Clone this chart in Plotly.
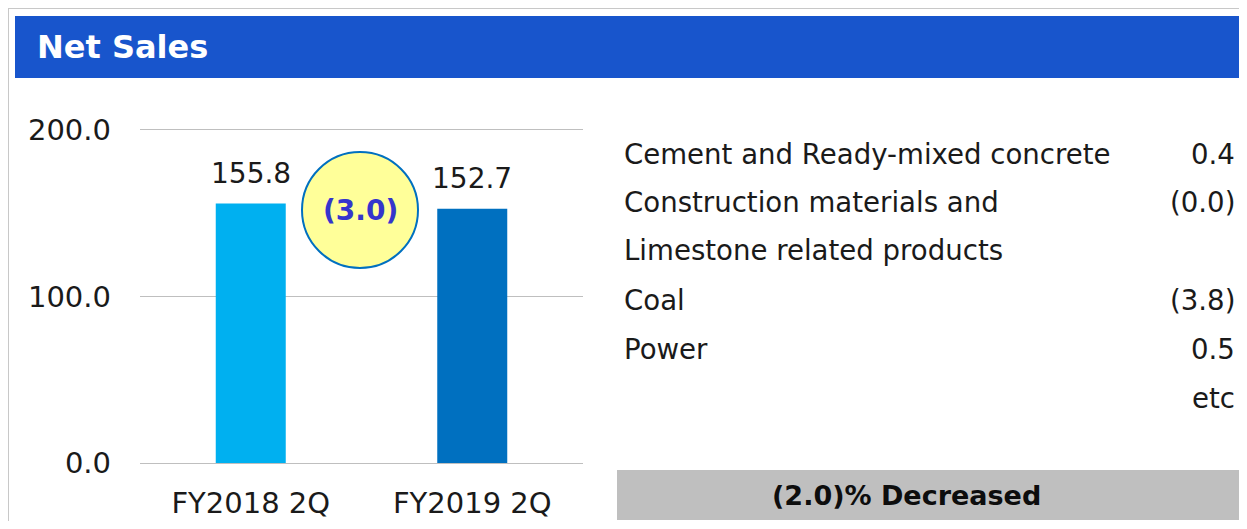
import plotly.graph_objects as go

W, H = 1247, 529
OFF = 8                      # default body margin of the html page
FW, FH = W - 2 * OFF, H - 2 * OFF

# data
periods = ['FY2018 2Q', 'FY2019 2Q']
net_sales = [155.8, 152.7]
bar_colors = ['#00B0F0', '#0070C0']
change_label = '(3.0)'
segments = ['Cement and Ready-mixed concrete', 'Construction materials and',
            'Limestone related products', 'Coal', 'Power', '']
segment_changes = ['0.4', '(0.0)', '', '(3.8)', '0.5', 'etc']
summary = '(2.0)% Decreased'

FONT = 'DejaVu Sans'
TXT = '#1a1a1a'


def px(x):
    # screen pixel -> paper x
    return (x - OFF) / FW


def py(y):
    # screen pixel -> paper y
    return 1 - (y - OFF) / FH


fig = go.Figure()
fig.add_trace(go.Bar(x=periods, y=net_sales, marker_color=bar_colors,
                     marker_line_width=0, showlegend=False, hoverinfo='x+y'))

annotations = []
# value labels above bars
for p, v in zip(periods, net_sales):
    annotations.append(dict(x=p, y=v, xref='x', yref='y', text=f'{v:.1f}', showarrow=False,
                            yanchor='bottom', yshift=12, font=dict(family=FONT, size=28, color=TXT)))

shapes = [
    # outer frame
    dict(type='rect', xref='paper', yref='paper', x0=px(8), x1=px(1300), y0=py(600), y1=py(8),
         line=dict(color='#C8C8C8', width=2), fillcolor='rgba(0,0,0,0)', layer='below'),
    # header band
    dict(type='rect', xref='paper', yref='paper', x0=px(15), x1=px(1300), y0=py(78), y1=py(16),
         line=dict(width=0), fillcolor='#1855CC', layer='below'),
    # summary band
    dict(type='rect', xref='paper', yref='paper', x0=px(617), x1=px(1300), y0=py(520), y1=py(470),
         line=dict(width=0), fillcolor='#BFBFBF', layer='below'),
    # change bubble
    dict(type='circle', xref='paper', yref='paper', x0=px(302), x1=px(418), y0=py(268), y1=py(152),
         line=dict(color='#0070C0', width=2), fillcolor='#FFFF99', layer='below'),
]

annotations += [
    dict(x=px(35), y=py(47), xref='paper', yref='paper', text='<b>Net Sales</b>', showarrow=False,
         xanchor='left', yanchor='middle', font=dict(family=FONT, size=32, color='white')),
    dict(x=px(360), y=py(211), xref='paper', yref='paper', text=f'<b>{change_label}</b>', showarrow=False,
         xanchor='center', yanchor='middle', font=dict(family=FONT, size=28, color='#3535CC')),
    dict(x=px(906), y=py(495), xref='paper', yref='paper', text=f'<b>{summary}</b>', showarrow=False,
         xanchor='center', yanchor='middle', font=dict(family=FONT, size=27, color='#0d0d0d')),
]

row_y = [155, 203, 251, 300, 349, 398]
for name, chg, yy in zip(segments, segment_changes, row_y):
    if name:
        annotations.append(dict(x=px(622), y=py(yy), xref='paper', yref='paper', text=name,
                                showarrow=False, xanchor='left', yanchor='middle',
                                font=dict(family=FONT, size=27.6, color=TXT)))
    if chg:
        annotations.append(dict(x=px(1237), y=py(yy), xref='paper', yref='paper', text=chg,
                                showarrow=False, xanchor='right', yanchor='middle',
                                font=dict(family=FONT, size=27.6, color=TXT)))

fig.update_layout(
    width=FW, height=FH, margin=dict(l=0, r=0, t=0, b=0, pad=0, autoexpand=False),
    paper_bgcolor='white', plot_bgcolor='white',
    bargap=0.684, shapes=shapes, annotations=annotations,
    xaxis=dict(domain=[px(140), px(583)], showgrid=False, showline=False, ticks='', automargin=False,
               tickfont=dict(family=FONT, size=29, color=TXT), ticklabelstandoff=20),
    # range slightly above 200 so the top gridline is drawn
    yaxis=dict(domain=[py(463), py(128.3)], range=[0, 201], tickvals=[0, 100, 200],
               ticktext=['0.0', '100.0', '200.0'], showgrid=True, gridcolor='#BFBFBF', gridwidth=1,
               zeroline=True, zerolinecolor='#BFBFBF', zerolinewidth=1, showline=False, automargin=False,
               tickfont=dict(family=FONT, size=29, color=TXT), ticklabelstandoff=28),
)

fig.write_html('out.html')
